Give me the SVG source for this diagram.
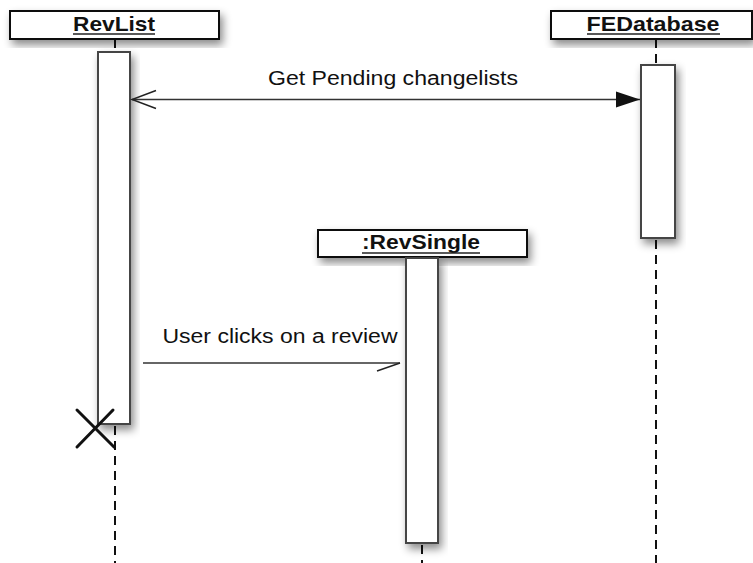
<svg xmlns="http://www.w3.org/2000/svg" width="753" height="563" viewBox="0 0 753 563">
  <defs>
    <filter id="sh" x="-30%" y="-30%" width="160%" height="160%">
      <feDropShadow dx="3" dy="5" stdDeviation="4" flood-color="#000" flood-opacity="0.45"/>
    </filter>
    <marker id="filled" markerWidth="26" markerHeight="18" refX="24" refY="9" orient="auto" markerUnits="userSpaceOnUse">
      <path d="M0,1 L24,9 L0,17 Z" fill="#111"/>
    </marker>
    <marker id="open" markerWidth="28" markerHeight="22" refX="2" refY="11" orient="auto" markerUnits="userSpaceOnUse">
      <path d="M26,2 L2,11 L26,20" fill="none" stroke="#222" stroke-width="1.5"/>
    </marker>
    <marker id="half" markerWidth="28" markerHeight="14" refX="25" refY="2" orient="auto" markerUnits="userSpaceOnUse">
      <path d="M25,2 L2,10" fill="none" stroke="#222" stroke-width="1.5"/>
    </marker>
  </defs>
  <style>
    .box { fill: #fff; stroke: #111; stroke-width: 2; }
    .act { fill: #fff; stroke: #444; stroke-width: 2; }
    .life { stroke: #111; stroke-width: 2; stroke-dasharray: 9 6; fill: none; }
    .title { font-family: "Liberation Sans", Arial, sans-serif; font-weight: bold; font-size: 21px; fill: #111; }
    .lbl { font-family: "Liberation Sans", Arial, sans-serif; font-size: 20px; fill: #111; }
    .msg { stroke: #333; stroke-width: 1.5; fill: none; }
    .ul { stroke: #222; stroke-width: 1.5; }
  </style>

  <g id="lifelines">
    <line class="life" x1="115" y1="39" x2="115" y2="52"/>
    <line class="life" x1="115" y1="426" x2="115" y2="563"/>
    <line class="life" x1="656" y1="39" x2="656" y2="65"/>
    <line class="life" x1="656" y1="240" x2="656" y2="563"/>
    <line class="life" x1="422" y1="545" x2="422" y2="563"/>
  </g>

  <g id="RevList">
    <rect class="box" x="10" y="11" width="209" height="28" filter="url(#sh)"/>
    <text class="title" x="114" y="31" text-anchor="middle" textLength="82" lengthAdjust="spacingAndGlyphs">RevList</text>
    <line class="ul" x1="73" y1="34" x2="155" y2="34"/>
    <rect class="act" x="98" y="52" width="32" height="372" filter="url(#sh)"/>
    <g stroke="#111" stroke-width="3" stroke-linecap="round">
      <line x1="77" y1="410" x2="114" y2="447"/>
      <line x1="113" y1="410" x2="77" y2="447"/>
    </g>
  </g>

  <g id="FEDatabase">
    <rect class="box" x="551" y="11" width="201" height="28" filter="url(#sh)"/>
    <text class="title" x="653" y="31" text-anchor="middle" textLength="133" lengthAdjust="spacingAndGlyphs">FEDatabase</text>
    <line class="ul" x1="587" y1="34" x2="720" y2="34"/>
    <rect class="act" x="641" y="65" width="34" height="173" filter="url(#sh)"/>
  </g>

  <g id="RevSingle">
    <rect class="box" x="318" y="230" width="209" height="27" filter="url(#sh)"/>
    <text class="title" x="421" y="249" text-anchor="middle" textLength="118" lengthAdjust="spacingAndGlyphs">:RevSingle</text>
    <line class="ul" x1="362" y1="253" x2="480" y2="253"/>
    <rect class="act" x="406" y="258" width="32" height="285" filter="url(#sh)"/>
  </g>

  <g id="connectors">
    <line class="msg" x1="132" y1="99.5" x2="640" y2="99.5" marker-start="url(#open)" marker-end="url(#filled)"/>
    <text class="lbl" x="393" y="85" text-anchor="middle" textLength="250" lengthAdjust="spacingAndGlyphs">Get Pending changelists</text>
    <line class="msg" x1="143" y1="363" x2="400" y2="363" marker-end="url(#half)"/>
    <text class="lbl" x="280" y="343" text-anchor="middle" textLength="235" lengthAdjust="spacingAndGlyphs">User clicks on a review</text>
  </g>
</svg>
